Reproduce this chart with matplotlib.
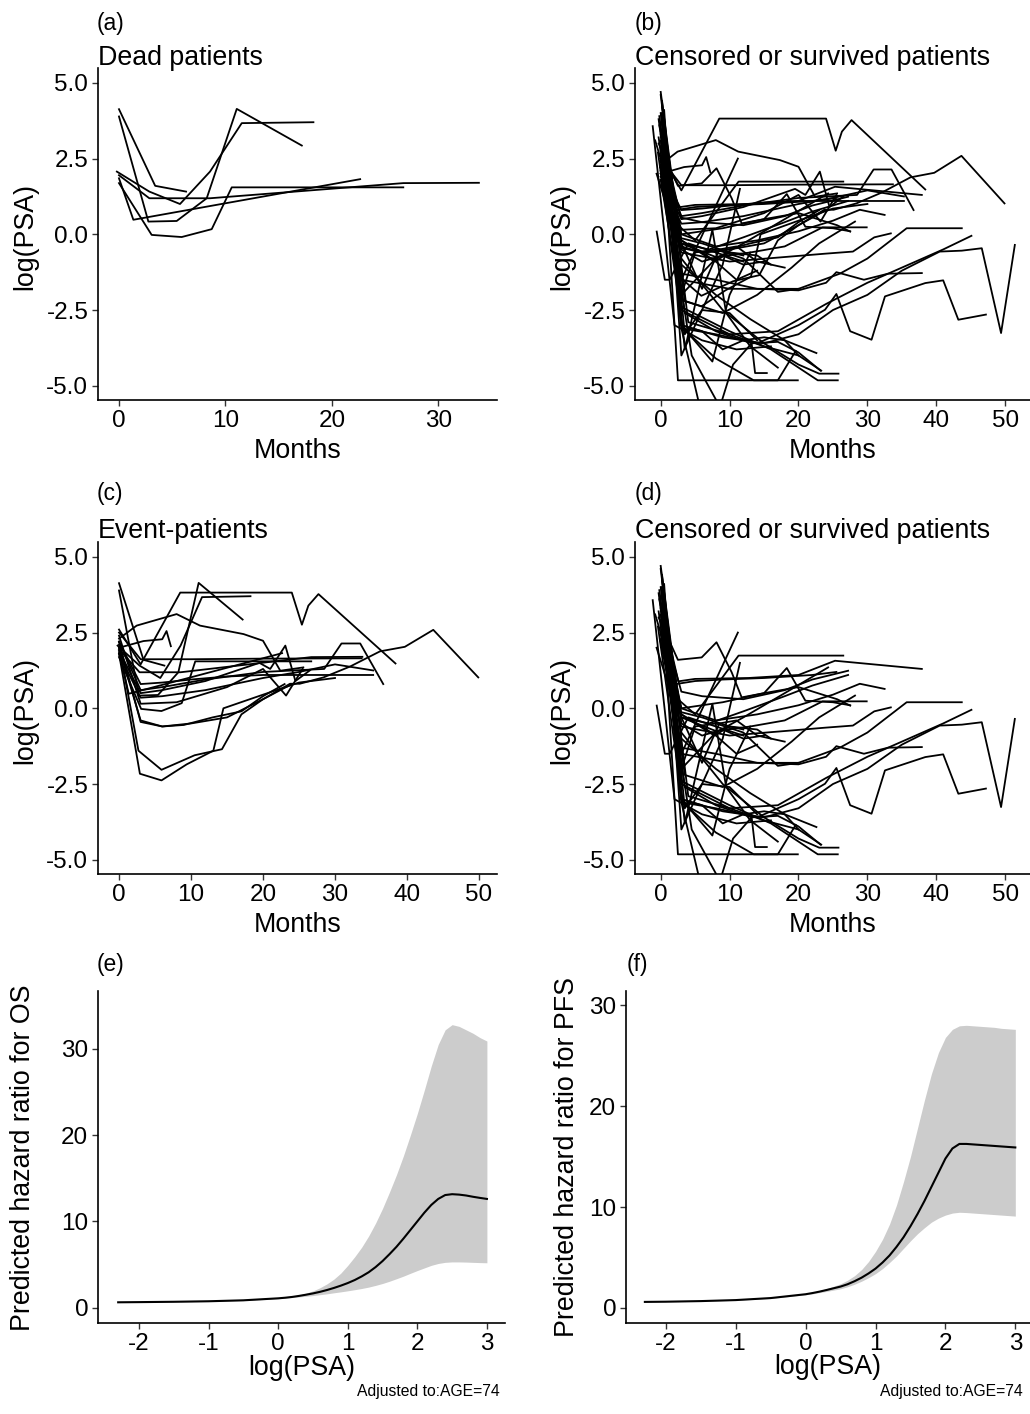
import matplotlib
matplotlib.use("Agg")
import matplotlib.pyplot as plt

plt.rcParams['font.family'] = ['Liberation Sans', 'DejaVu Sans']

# ---------------- data: PSA trajectories (months, log(PSA)) ----------------
# patients who died (panel a; also events in panel c)
dead_months = [
    [0.0, 3.4, 6.3],
    [0.0, 2.76, 5.42, 8.24, 11.06, 17.17],
    [-0.2, 2.85, 5.73, 8.55, 11.53, 18.26],
    [0.0, 3.07, 5.89, 8.71, 10.59, 26.7],
    [0.0, 1.35, 22.65],
    [0.0, 2.85, 8.55, 26.7, 33.8],
]
dead_psa = [
    [4.13, 1.60, 1.41],
    [3.89, 0.42, 0.44, 1.19, 4.14, 2.93],
    [2.07, 1.41, 1.00, 2.07, 3.67, 3.70],
    [1.69, -0.02, -0.09, 0.17, 1.55, 1.55],
    [1.85, 0.48, 1.82],
    [1.95, 1.19, 1.19, 1.69, 1.70],
]

# patients with a progression event who survived (panels b and c)
event_months = [
    [0.0, 3.0, 8.5, 24.0, 25.4, 26.3, 27.7, 38.4],
    [0.0, 3.0, 6.0, 10.0, 15.0, 20.0, 23.75, 25.1, 28.4, 32.1, 36.25, 39.7, 43.65, 49.9],
    [0.0, 3.0, 6.0, 12.0, 20.0, 28.5, 30.9, 33.5, 36.7],
    [0.0, 2.45, 8.0, 11.25, 17.3, 20.0, 22.4, 25.6],
    [0.0, 3.4, 6.0, 6.6, 7.2],
    [0.0, 3.0, 10.0, 20.0, 33.7],
    [0.0, 3.0, 6.0, 12.0, 20.0, 25.0, 30.0, 35.3],
    [0.0, 3.0, 6.0, 10.0, 15.0, 20.0, 30.0, 35.3],
    [0.0, 2.9, 5.9, 9.4, 13.1, 14.5, 20.0, 25.0, 30.0],
    [0.0, 2.7, 5.9, 10.5, 14.3, 17.0, 20.0, 24.0],
    [0.0, 3.0, 6.0, 9.0, 13.0, 17.0, 20.0, 23.0],
    [0.0, 3.0, 6.0, 12.0, 19.5, 21.0, 23.1, 24.5, 26.5],
    [0.0, 3.0, 8.0, 15.0, 20.0, 23.2, 25.5],
]
event_psa = [
    [2.6, 1.45, 3.82, 3.82, 2.76, 3.39, 3.77, 1.48],
    [2.0, -0.4, -0.6, -0.5, -0.3, 0.3, 0.81, 0.81, 1.02, 1.38, 1.88, 2.03, 2.59, 1.02],
    [2.2, 0.6, 0.7, 0.95, 1.2, 1.3, 2.14, 2.14, 0.8],
    [2.3, 2.73, 3.11, 2.73, 2.45, 2.23, 1.24, 1.35],
    [2.0, 2.22, 2.28, 2.55, 2.05],
    [2.5, 1.62, 1.62, 1.64, 1.65],
    [1.8, 0.35, 0.4, 0.6, 1.0, 1.2, 1.45, 1.25],
    [2.2, 0.8, 0.85, 0.95, 1.05, 1.1, 1.1, 1.1],
    [1.8, -2.16, -2.38, -1.85, -1.4, 0.0, 0.45, 0.85, 1.0],
    [2.1, -1.4, -2.03, -1.55, -1.35, -0.2, 0.3, 0.8],
    [2.2, -0.45, -0.6, -0.55, -0.3, -0.1, 0.4, 0.8],
    [1.9, 0.5, 0.6, 0.9, 1.5, 1.3, 2.07, 0.9, 1.25],
    [2.4, 0.15, 0.2, 0.7, 1.3, 0.42, 1.3],
]

# censored patients without any event (panels b and d)
cens_months = [
    [0.3, 2.5, 19.9],
    [0.2, 3.05, 6.2],
    [0.0, 4.5, 8.6, 10.5, 13.2, 17.0, 20.0, 23.2],
    [-0.4, 3.2, 8.0, 13.5, 17.0, 19.6],
    [-0.3, 2.5, 5.95, 8.1, 10.3, 11.75, 15.0, 18.3, 21.0, 25.0, 27.5],
    [0.2, 2.5, 5.0, 11.3, 26.5],
    [0.0, 2.8, 11.2],
    [-0.2, 2.56, 4.97, 12.7, 20.0, 25.3, 37.9],
    [0.1, 3.0, 6.0, 12.0, 18.0, 22.0, 27.2],
    [0.4, 3.0, 7.0, 12.0, 18.0, 22.0, 27.2],
    [0.0, 3.0, 8.0, 14.0, 20.0, 25.0, 28.9, 32.5],
    [0.3, 3.0, 8.0, 13.0, 18.0, 23.5, 29.9],
    [-0.2, 3.5, 9.0, 14.0, 19.0, 23.0, 28.2],
    [0.1, 3.0, 9.0, 15.0, 20.0, 25.6, 27.5],
    [-0.6, 3.0, 10.0, 18.0, 23.85, 27.9, 31.0, 33.4],
    [0.0, 3.0, 10.0, 20.0, 26.0, 30.0, 35.7, 43.7],
    [0.2, 3.0, 10.0, 17.0, 24.0, 30.0, 36.0, 41.0, 45.1],
    [-0.1, 3.0, 8.0, 14.0, 20.0, 24.0, 25.5, 29.5, 33.0, 37.9],
    [0.1, 3.0, 9.0, 15.0, 20.0, 25.0, 30.0, 35.0, 40.5, 43.7, 46.6, 49.4, 51.4],
    [0.3, 3.0, 8.0, 14.0, 20.0, 23.85, 25.5, 27.5, 30.6, 32.55, 38.4, 41.0, 43.2, 47.2],
    [-0.3, 3.0, 10.0, 16.0, 22.8, 25.7],
    [0.0, 3.0, 9.0, 15.0, 20.0, 23.0, 25.8],
    [0.5, 4.0, 10.0, 15.0, 20.0, 23.3],
    [0.2, 3.0, 8.0, 13.0, 18.0, 22.6],
    [0.0, 3.5, 8.0, 13.2, 13.7, 15.4],
    [0.1, 3.0, 8.0, 12.0, 18.0, 24.3],
    [-0.58, 0.6, 1.3, 4.0, 8.0, 12.0],
    [-1.16, 2.0, 6.0, 11.0, 16.0],
    [0.0, 3.0, 6.0, 8.5, 11.0, 14.0, 18.0],
    [0.4, 3.0, 6.0, 8.0, 11.0, 14.0],
    [0.5, 3.0, 6.0, 9.0, 12.0, 15.0, 18.0, 20.0],
    [0.0, 2.5, 6.0, 10.0, 14.0, 16.0],
    [0.3, 3.0, 7.5, 10.0, 13.0],
    [0.0, 3.5, 7.5, 9.5, 13.0, 17.0],
    [-0.8, 2.2, 5.0, 9.0, 15.0, 22.0, 25.5],
    [0.0, 3.0, 6.0, 9.0, 12.0, 15.0],
    [-0.3, 3.0, 5.0, 8.0, 12.0, 17.0, 20.0],
    [0.2, 3.5, 6.0, 10.0, 14.0],
    [0.1, 3.0, 5.0, 7.8, 10.0, 12.0],
    [0.5, 3.0, 6.0, 9.0, 11.5],
]
cens_psa = [
    [3.3, -4.82, -4.82],
    [3.4, -3.15, -6.2],
    [2.5, -4.0, -5.7, -4.3, -3.6, -3.55, -3.9, -4.5],
    [2.7, -3.1, -4.1, -4.82, -4.82, -3.85],
    [3.0, 1.6, 1.68, 2.18, 1.19, 0.36, 0.5, 1.33, 0.25, 0.2, 0.1],
    [4.2, 0.3, -0.2, 1.74, 1.74],
    [3.1, -1.6, 2.5],
    [3.6, 0.89, 0.97, 1.0, 1.1, 1.57, 1.3],
    [2.9, 0.55, 0.4, 0.3, 0.6, 0.95, 1.24],
    [2.4, -0.3, -0.5, -0.1, 0.4, 0.75, 1.1],
    [3.3, 0.0, -0.4, -0.2, 0.1, 0.45, 0.81, 0.64],
    [2.7, -0.3, -0.75, -0.6, -0.4, 0.23, 0.23],
    [3.9, -2.2, -2.6, -2.0, -1.1, -0.3, 0.42],
    [2.6, 0.0, 0.2, 0.5, 0.7, 0.3, 0.09],
    [2.0, -0.6, -0.9, -0.75, -0.64, -0.57, -0.1, 0.03],
    [2.5, -1.5, -1.8, -1.8, -1.3, -0.8, 0.2, 0.2],
    [3.0, -2.5, -3.3, -3.2, -2.3, -1.6, -1.0, -0.5, -0.05],
    [2.3, -1.3, -1.5, -1.8, -1.85, -1.6, -1.25, -1.5, -1.3, -1.28],
    [4.0, -3.0, -3.4, -3.6, -3.3, -2.5, -2.0, -1.2, -0.57, -0.54, -0.46, -3.26, -0.35],
    [3.3, -3.1, -3.3, -3.6, -3.0, -2.49, -1.97, -3.2, -3.48, -2.05, -1.61, -1.52, -2.82, -2.65],
    [3.2, -2.4, -3.2, -3.8, -4.82, -4.82],
    [2.9, -0.8, -2.5, -3.6, -4.3, -4.6, -4.6],
    [3.7, -2.9, -3.3, -3.7, -4.0, -4.5],
    [4.4, -1.0, -2.0, -2.8, -3.5, -3.92],
    [3.4, -2.6, -3.2, -3.6, -4.58, -4.58],
    [3.0, -2.0, -0.8, -0.3, 0.5, 1.35],
    [0.09, -1.5, -1.5, -0.3, -0.6, -0.9],
    [3.57, -3.0, -3.5, -3.8, -3.7],
    [2.2, -0.3, -1.8, -0.5, -0.4, -0.9, -1.1],
    [3.5, -0.2, -0.6, -0.9, -1.5, -1.2],
    [2.8, -3.0, -3.2, -3.8, -3.5, -3.4, -3.5, -4.0],
    [4.6, -0.1, -0.3, -0.6, -0.7, -1.0],
    [3.9, -3.0, -4.2, -2.0, -0.6],
    [4.0, -3.8, 0.15, -2.6, -3.7, -4.4],
    [3.1, 0.8, 0.9, 0.95, 1.0, 1.1, 1.2],
    [4.7, -0.5, -0.9, -0.7, -1.0, -0.9],
    [3.8, -2.0, -0.6, -0.5, -0.8, -1.9, -1.8],
    [4.3, -3.3, -2.5, -2.6, -3.5],
    [3.3, -0.2, -0.5, -0.9, -0.6, -0.7],
    [4.1, -4.0, -2.5, -1.0, 1.5],
]

# ---------------- data: predicted hazard ratios ----------------
os_logpsa = [-2.3, -2.0, -1.5, -1.0, -0.5, 0.0, 0.1, 0.2, 0.3, 0.4, 0.5, 0.6, 0.7, 0.8,
             0.9, 1.0, 1.1, 1.2, 1.3, 1.4, 1.5, 1.6, 1.7, 1.8, 1.9, 2.0, 2.1, 2.2, 2.3,
             2.4, 2.5, 2.6, 2.7, 2.8, 2.9, 3.0]
os_hr = [0.62, 0.64, 0.68, 0.74, 0.85, 1.08, 1.15, 1.24, 1.36, 1.5, 1.65, 1.83, 2.04,
         2.28, 2.55, 2.85, 3.2, 3.62, 4.1, 4.7, 5.4, 6.2, 7.05, 8.0, 9.0, 10.0, 11.0,
         11.9, 12.6, 13.05, 13.15, 13.1, 13.0, 12.85, 12.72, 12.6]
os_upper = [0.63, 0.65, 0.70, 0.77, 0.88, 1.12, 1.2, 1.32, 1.47, 1.68, 1.95, 2.3, 2.75,
            3.3, 4.0, 4.9, 5.9, 7.0, 8.3, 9.8, 11.5, 13.4, 15.4, 17.6, 20.0, 22.5, 25.2,
            28.0, 30.5, 32.2, 32.8, 32.6, 32.2, 31.8, 31.3, 30.9]
os_lower = [0.61, 0.63, 0.66, 0.71, 0.82, 1.04, 1.1, 1.17, 1.24, 1.32, 1.4, 1.5, 1.6,
            1.72, 1.83, 1.95, 2.08, 2.22, 2.38, 2.58, 2.8, 3.06, 3.35, 3.65, 3.98, 4.3,
            4.6, 4.9, 5.12, 5.25, 5.3, 5.3, 5.28, 5.25, 5.22, 5.2]

pfs_logpsa = [-2.3, -2.0, -1.5, -1.0, -0.5, 0.0, 0.1, 0.2, 0.3, 0.4, 0.5, 0.6, 0.7, 0.8,
              0.9, 1.0, 1.1, 1.2, 1.3, 1.4, 1.5, 1.6, 1.7, 1.8, 1.9, 2.0, 2.1, 2.2, 2.3,
              2.4, 2.5, 2.6, 2.7, 2.8, 2.9, 3.0]
pfs_hr = [0.6, 0.62, 0.68, 0.78, 0.98, 1.36, 1.48, 1.62, 1.78, 1.95, 2.12, 2.35, 2.65,
          3.0, 3.42, 3.9, 4.5, 5.2, 6.05, 7.0, 8.1, 9.3, 10.6, 12.0, 13.4, 14.8, 15.8,
          16.25, 16.25, 16.2, 16.15, 16.1, 16.05, 16.0, 15.95, 15.9]
pfs_upper = [0.61, 0.63, 0.7, 0.8, 1.02, 1.42, 1.56, 1.72, 1.92, 2.15, 2.4, 2.75, 3.2,
             3.8, 4.6, 5.6, 6.8, 8.3, 10.2, 12.5, 15.0, 17.8, 20.6, 23.2, 25.3, 26.8,
             27.6, 27.95, 28.0, 27.95, 27.9, 27.85, 27.8, 27.7, 27.65, 27.6]
pfs_lower = [0.59, 0.61, 0.66, 0.76, 0.94, 1.3, 1.4, 1.52, 1.64, 1.77, 1.9, 2.1, 2.35,
             2.65, 3.0, 3.4, 3.9, 4.5, 5.15, 5.9, 6.65, 7.35, 7.95, 8.5, 8.9, 9.2, 9.4,
             9.48, 9.45, 9.4, 9.35, 9.3, 9.25, 9.2, 9.15, 9.1]

psa_ticks = [-5.0, -2.5, 0.0, 2.5, 5.0]
psa_ticklabels = ["-5.0", "-2.5", "0.0", "2.5", "5.0"]
hr_xticks = [-2, -1, 0, 1, 2, 3]
hr_xticklabels = ["-2", "-1", "0", "1", "2", "3"]
hr_yticks = [0, 10, 20, 30]

# ---------------- figure ----------------
W, H = 1030, 1414
fig = plt.figure(figsize=(W / 100, H / 100), dpi=100)


def rect(l, t, r, b):
    return [l / W, 1 - b / H, (r - l) / W, (b - t) / H]


def style(ax):
    for s in ("top", "right"):
        ax.spines[s].set_visible(False)
    for s in ("left", "bottom"):
        ax.spines[s].set_linewidth(1.2)
        ax.spines[s].set_color("black")
    ax.tick_params(length=4.5, width=1.0, color="#333333", labelsize=17.5,
                   labelcolor="black", pad=2.5)


def fig_text(x, y, s, **kw):
    fig.text(x / W, 1 - y / H, s, **kw)


def spaghetti(ax, groups, xlim, xticks):
    for months, vals in groups:
        for t, v in zip(months, vals):
            ax.plot(t, v, color="black", lw=1.3, solid_joinstyle="round")
    ax.set_xlim(*xlim)
    ax.set_ylim(-5.47, 5.49)
    ax.set_xticks(xticks)
    ax.set_yticks(psa_ticks)
    ax.set_yticklabels(psa_ticklabels)
    style(ax)


ax_a = fig.add_axes(rect(98, 68, 497, 400))
spaghetti(ax_a, [(dead_months, dead_psa)], (-1.97, 35.5), [0, 10, 20, 30])
ax_b = fig.add_axes(rect(635, 68, 1030, 400))
spaghetti(ax_b, [(event_months, event_psa), (cens_months, cens_psa)], (-3.73, 53.6),
          [0, 10, 20, 30, 40, 50])
ax_c = fig.add_axes(rect(98, 542, 497, 874))
spaghetti(ax_c, [(dead_months, dead_psa), (event_months, event_psa)], (-2.92, 52.5),
          [0, 10, 20, 30, 40, 50])
ax_d = fig.add_axes(rect(635, 542, 1030, 874))
spaghetti(ax_d, [(cens_months, cens_psa)], (-3.73, 53.6), [0, 10, 20, 30, 40, 50])

# hazard ratio panels
ax_e = fig.add_axes(rect(98, 991, 505, 1323))
ax_e.fill_between(os_logpsa, os_lower, os_upper, color="#cccccc", lw=0)
ax_e.plot(os_logpsa, os_hr, color="black", lw=1.5)
ax_e.set_xlim(-2.59, 3.26)
ax_e.set_ylim(-1.78, 36.7)
ax_e.set_xticks(hr_xticks)
ax_e.set_xticklabels(hr_xticklabels)
ax_e.set_yticks(hr_yticks)
style(ax_e)

ax_f = fig.add_axes(rect(626, 991, 1030, 1323))
ax_f.fill_between(pfs_logpsa, pfs_lower, pfs_upper, color="#cccccc", lw=0)
ax_f.plot(pfs_logpsa, pfs_hr, color="black", lw=1.5)
ax_f.set_xlim(-2.57, 3.21)
ax_f.set_ylim(-1.49, 31.4)
ax_f.set_xticks(hr_xticks)
ax_f.set_xticklabels(hr_xticklabels)
ax_f.set_yticks(hr_yticks)
style(ax_f)

# ---------------- texts ----------------
lab = dict(fontsize=16.5, va="baseline", ha="left")
fig_text(97, 30, "(a)", **lab)
fig_text(635, 30, "(b)", **lab)
fig_text(97, 500, "(c)", **lab)
fig_text(635, 500, "(d)", **lab)
fig_text(97, 971, "(e)", **lab)
fig_text(627, 971, "(f)", **lab)

tit = dict(fontsize=19.3, va="baseline", ha="left")
fig_text(98, 65, "Dead patients", **tit)
fig_text(635, 65, "Censored or survived patients", **tit)
fig_text(98, 538, "Event-patients", **tit)
fig_text(635, 538, "Censored or survived patients", **tit)

xl = dict(fontsize=19.3, va="baseline", ha="center")
fig_text(298, 458, "Months", **xl)
fig_text(833, 458, "Months", **xl)
fig_text(298, 932, "Months", **xl)
fig_text(833, 932, "Months", **xl)
fig_text(301.5, 1375, "log(PSA)", **xl)
fig_text(828, 1374, "log(PSA)", **xl)

yl = dict(fontsize=19.3, va="center", ha="center", rotation=90)
fig_text(25, 236, "log(PSA)", **yl)
fig_text(562, 236, "log(PSA)", **yl)
fig_text(25, 710, "log(PSA)", **yl)
fig_text(562, 710, "log(PSA)", **yl)
fig_text(23, 1158, "Predicted hazard ratio for OS", **yl)
fig_text(567, 1157, "Predicted hazard ratio for PFS", **yl)

adj = dict(fontsize=11.3, va="baseline", ha="right")
fig_text(500, 1396, "Adjusted to:AGE=74", **adj)
fig_text(1023, 1396, "Adjusted to:AGE=74", **adj)

fig.savefig("out.png", dpi=100, facecolor="white")
